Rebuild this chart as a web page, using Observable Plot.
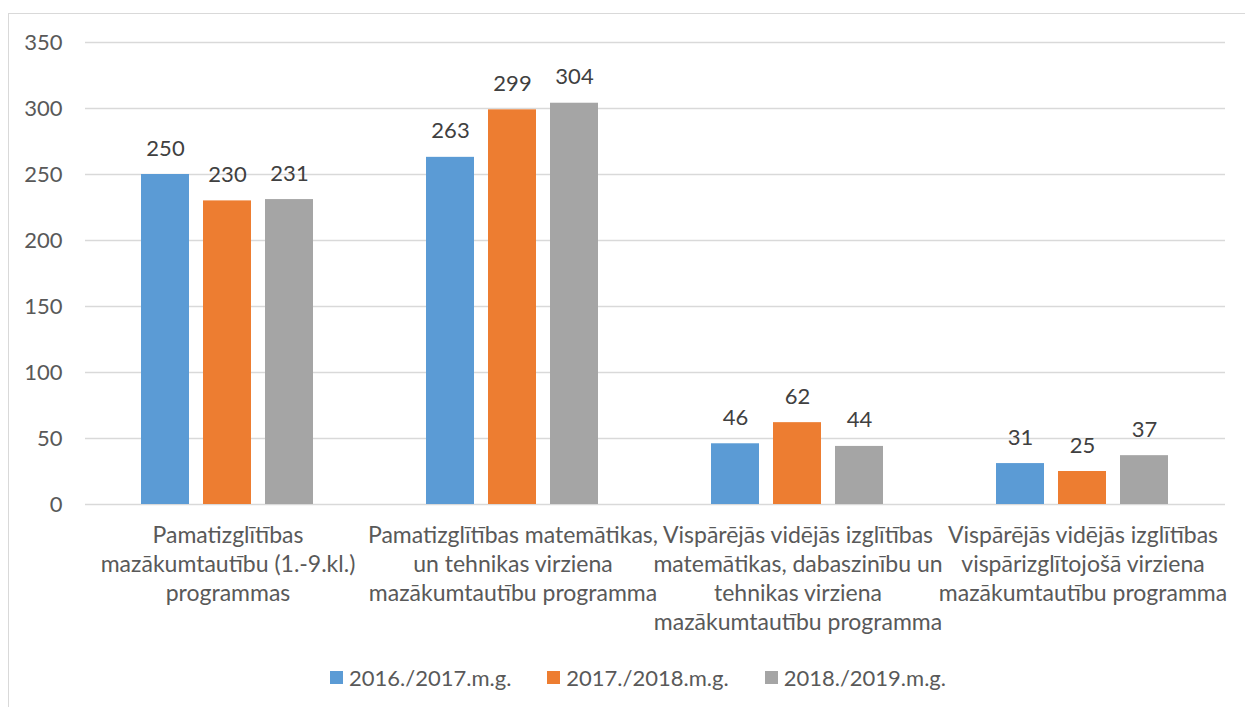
<!DOCTYPE html>
<html><head><meta charset="utf-8">
<script src="https://cdn.jsdelivr.net/npm/d3@7"></script>
<script src="https://cdn.jsdelivr.net/npm/@observablehq/plot@0.6"></script>
<style>
html,body{margin:0;padding:0;background:#fff;overflow:hidden;}
body{font-family:Lato,"Open Sans",sans-serif;width:1245px;height:707px;position:relative;}
#frame{position:absolute;left:8px;top:13px;width:1300px;height:800px;border:1px solid #d9d9d9;box-sizing:border-box;}
#chart{position:absolute;left:0;top:0;}
#legend{position:absolute;top:664px;left:330px;display:flex;align-items:center;font-size:22px;color:#595959;white-space:nowrap;}
.item{display:flex;align-items:center;margin-right:36px;}
.sw{width:13px;height:13px;margin-right:6px;}
</style></head>
<body>
<div id="frame"></div>
<div id="chart"></div>
<div id="legend"></div>
<script>
const categories = [
  "Pamatizglītības mazākumtautību (1.-9.kl.) programmas",
  "Pamatizglītības matemātikas, un tehnikas virziena mazākumtautību programma",
  "Vispārējās vidējās izglītības matemātikas, dabaszinību un tehnikas virziena mazākumtautību programma",
  "Vispārējās vidējās izglītības vispārizglītojošā virziena mazākumtautību programma"
];
const categoryLabels = [
  "Pamatizglītības\nmazākumtautību (1.-9.kl.)\nprogrammas",
  "Pamatizglītības matemātikas,\nun tehnikas virziena\nmazākumtautību programma",
  "Vispārējās vidējās izglītības\nmatemātikas, dabaszinību un\ntehnikas virziena\nmazākumtautību programma",
  "Vispārējās vidējās izglītības\nvispārizglītojošā virziena\nmazākumtautību programma"
];
const series = ["2016./2017.m.g.", "2017./2018.m.g.", "2018./2019.m.g."];
const values2016 = [250, 263, 46, 31];
const values2017 = [230, 299, 62, 25];
const values2018 = [231, 304, 44, 37];
const yTicks = [0, 50, 100, 150, 200, 250, 300, 350];
const colors = ["#5B9BD5", "#ED7D31", "#A5A5A5"];

const seriesValues = [values2016, values2017, values2018];
const rows = categories.flatMap((c, i) => series.map((s, j) => ({category: c, series: s, value: seriesValues[j][i]})));

const FONT = "Lato, 'Open Sans', sans-serif";
const chart = Plot.plot({
  width: 1245,
  height: 650,
  marginLeft: 84,
  marginRight: 19,
  marginTop: 42,
  marginBottom: 146,
  style: {background: "none", fontFamily: FONT, fontSize: "22px", color: "#595959"},
  fx: {domain: categories, padding: 0},
  x: {domain: series, paddingInner: 0.222, paddingOuter: 0.877, axis: null},
  y: {domain: [0, 350]},
  color: {domain: series, range: colors},
  marks: [
    Plot.gridY(yTicks, {stroke: "#d9d9d9", strokeOpacity: 1, strokeWidth: 1.5}),
    Plot.axisY({ticks: yTicks, tickSize: 0, tickPadding: 23, fontSize: 22, fill: "#595959", label: null}),
    Plot.axisFx({anchor: "bottom", tickSize: 0, tickPadding: 18, fontSize: 23, lineHeight: 1.26, fill: "#595959", label: null,
      tickFormat: d => categoryLabels[categories.indexOf(d)]}),
    Plot.barY(rows, {fx: "category", x: "series", y: "value", fill: "series"}),
    Plot.text(rows, {fx: "category", x: "series", y: "value", text: d => String(d.value), dy: -19, lineAnchor: "bottom", fill: "#404040", fontSize: 22})
  ]
});
document.getElementById("chart").appendChild(chart);

const legend = document.getElementById("legend");
series.forEach((s, i) => {
  const it = document.createElement("div");
  it.className = "item";
  const sw = document.createElement("div");
  sw.className = "sw";
  sw.style.background = colors[i];
  const t = document.createElement("span");
  t.textContent = s;
  it.appendChild(sw); it.appendChild(t);
  legend.appendChild(it);
});
</script>
</body></html>
